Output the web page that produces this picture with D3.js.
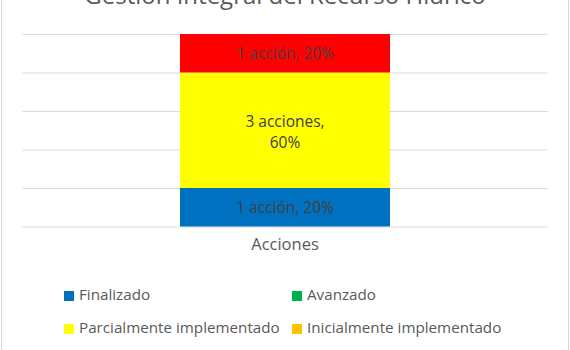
<!DOCTYPE html>
<html>
<head>
<meta charset="utf-8">
<script src="https://cdn.jsdelivr.net/npm/d3@7"></script>
<style>
  body { margin: 0; background: #fff; }
  svg { display: block; font-family: "Open Sans", sans-serif; }
</style>
</head>
<body>
<svg id="chart"></svg>
<script>
// data
var chartTitle = "Gestión Integral del Recurso Hídrico"
var categories = ["Acciones"]
var seriesNames = ["Finalizado", "Avanzado", "Parcialmente implementado", "Inicialmente implementado", "No iniciado"]
var seriesValues = [1, 0, 3, 0, 1]
var seriesColors = ["#0070C0", "#00B050", "#FFFF00", "#FFC000", "#FF0000"]
var yTicks = [0, 1, 2, 3, 4, 5]

var dimensions = {
    width: 570,
    height: 350,
    margin: {
        top: 34,
        bottom: 123.5,
        right: 22.5,
        left: 22.5
    }
}
dimensions.boundedWidth = dimensions.width - dimensions.margin.left - dimensions.margin.right
dimensions.boundedHeight = dimensions.height - dimensions.margin.top - dimensions.margin.bottom

var svg = d3.select("#chart")
    .attr("width", dimensions.width)
    .attr("height", dimensions.height)

// chart area border (left/right visible)
svg.append("rect")
    .attr("x", 1.5)
    .attr("y", -10)
    .attr("width", dimensions.width - 3)
    .attr("height", dimensions.height + 20)
    .attr("fill", "none")
    .attr("stroke", "#d9d9d9")

var bounded = svg.append("g")
    .attr("transform", "translate(" + dimensions.margin.left + "," + dimensions.margin.top + ")")

var total = d3.sum(seriesValues)

var xScale = d3.scaleBand()
    .domain(categories)
    .range([0, dimensions.boundedWidth])
    .paddingInner(0.6)
    .paddingOuter(0.3)

var yScale = d3.scaleLinear()
    .domain([0, d3.max(yTicks)])
    .range([dimensions.boundedHeight, 0])

// gridlines
var grid = bounded.append("g")
    .call(d3.axisLeft(yScale).tickValues(yTicks).tickSize(-dimensions.boundedWidth).tickFormat(""))
grid.select(".domain").remove()
grid.selectAll("line").attr("stroke", "#d9d9d9")

// stacked data
var rows = categories.map(function (c) {
    var r = { cat: c }
    seriesNames.forEach(function (s, i) { r[s] = seriesValues[i] })
    return r
})
var stacked = d3.stack().keys(seriesNames)(rows)

var layers = bounded.selectAll("g.layer")
    .data(stacked)
    .enter()
    .append("g")
    .attr("class", "layer")
    .attr("fill", function (d, i) { return seriesColors[i] })

layers.selectAll("rect")
    .data(function (d) { return d.filter(function (p) { return p[1] - p[0] > 0 }) })
    .enter()
    .append("rect")
    .attr("x", function (d) { return xScale(d.data.cat) })
    .attr("width", xScale.bandwidth())
    .attr("y", function (d) { return yScale(d[1]) })
    .attr("height", function (d) { return yScale(d[0]) - yScale(d[1]) })

// data labels
stacked.forEach(function (layer, i) {
    layer.forEach(function (p) {
        var v = p[1] - p[0]
        if (v <= 0) return
        var cx = xScale(p.data.cat) + xScale.bandwidth() / 2
        var cy = (yScale(p[0]) + yScale(p[1])) / 2
        var word = v === 1 ? "acción" : "acciones"
        var pct = Math.round(v / total * 100) + "%"
        var lines = v === 1 ? [v + " " + word + ", " + pct] : [v + " " + word + ",", pct]
        var t = bounded.append("text")
            .attr("text-anchor", "middle")
            .attr("font-size", 15.5)
            .attr("fill", "#404040")
        lines.forEach(function (ln, j) {
            var off = lines.length === 1 ? 5.5 : (j === 0 ? -3.5 : 17.5)
            t.append("tspan")
                .attr("x", cx)
                .attr("y", cy + off)
                .text(ln)
        })
    })
})

// category axis label
bounded.append("text")
    .attr("x", xScale("Acciones") + xScale.bandwidth() / 2)
    .attr("y", dimensions.boundedHeight + 23)
    .attr("text-anchor", "middle")
    .attr("font-size", 16.5)
    .attr("fill", "#595959")
    .text(categories[0])

// title
svg.append("text")
    .attr("x", dimensions.width / 2)
    .attr("y", 4)
    .attr("text-anchor", "middle")
    .attr("font-size", 24)
    .attr("fill", "#595959")
    .text(chartTitle)

// legend (2 columns)
var legendX = [64, 292]
var legendY = [300, 333, 366]
var legend = svg.append("g")
seriesNames.forEach(function (s, i) {
    var x = legendX[i % 2]
    var y = legendY[Math.floor(i / 2)]
    if (y > dimensions.height) return
    legend.append("rect")
        .attr("x", x)
        .attr("y", y - 9)
        .attr("width", 10)
        .attr("height", 10)
        .attr("fill", seriesColors[i])
    legend.append("text")
        .attr("x", x + 15)
        .attr("y", y)
        .attr("font-size", 15.2)
        .attr("fill", "#595959")
        .text(s)
})
</script>
</body>
</html>
